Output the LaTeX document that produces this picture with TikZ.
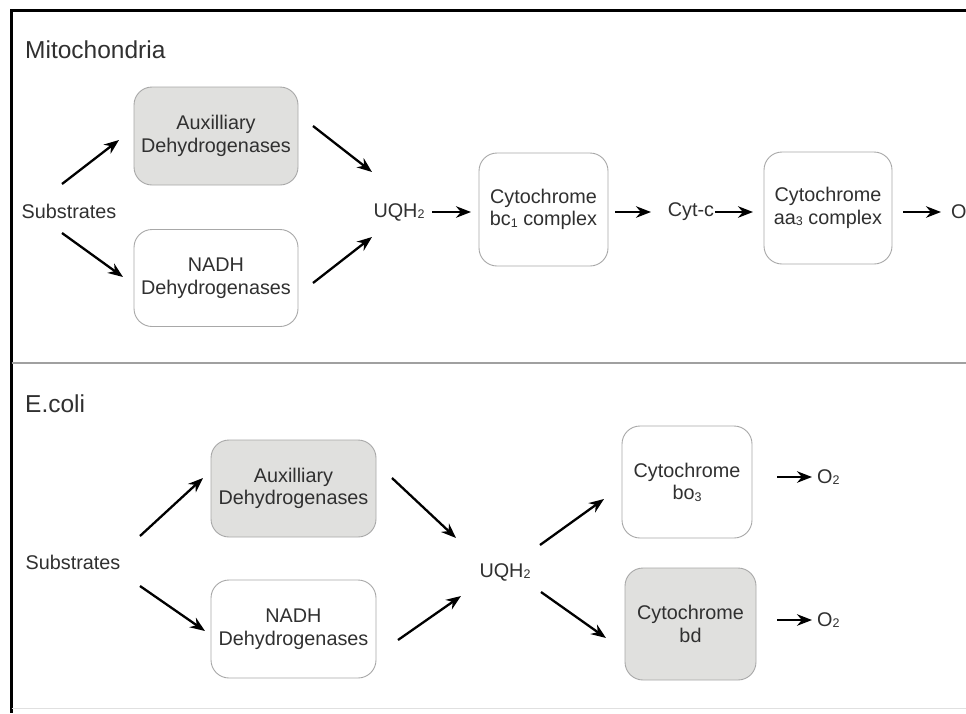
\documentclass[tikz,border=0pt]{standalone}
\usepackage{fontspec}
\setmainfont{Liberation Sans}
\usetikzlibrary{arrows.meta}
\definecolor{txt}{HTML}{303030}
\definecolor{bord}{HTML}{A8A8A8}
\definecolor{shade}{HTML}{E0E0DE}
\definecolor{divl}{HTML}{A0A0A0}
\newcommand{\lsub}[1]{\raisebox{-0.08em}{\fontsize{12.5}{12.5}\selectfont #1}}
\begin{document}
\begin{tikzpicture}[x=1pt,y=-1pt,
  lbl/.style={text=txt, font=\fontsize{19.8}{22.5}\selectfont, align=center, inner sep=0pt},
  title/.style={text=txt, font=\fontsize{24.5}{28}\selectfont, anchor=base west, inner sep=0pt},
  box/.style={lbl, draw=bord, line width=0.9pt, rounded corners=18pt},
  graybox/.style={box, fill=shade},
  flow/.style={draw=black, line width=2.3pt, -{Stealth[length=15pt,width=11.5pt]}}
]
\useasboundingbox (0,0) rectangle (966,713);
\begin{scope}
\clip (0,0) rectangle (966,713);
\fill[white] (0,0) rectangle (966,713);
% frame
\draw[line width=3pt] (11.5,10) -- (11.5,713);
\draw[line width=2.5pt] (10,10.5) -- (966,10.5);
\draw[divl, line width=1.5pt] (11.5,363) -- (966,363);
\draw[black!12, line width=1pt] (11.5,708) -- (966,708);

% ---------- Mitochondria ----------
\node[title] (tmito) at (25,58) {Mitochondria};
\node[lbl] (subsT) at (69,211) {Substrates};
\node[graybox, minimum width=164pt, minimum height=98pt] (auxT) at (216,136) {Auxilliary\\Dehydrogenases};
\node[box, minimum width=164pt, minimum height=97pt] (nadhT) at (216,278) {NADH\\Dehydrogenases};
\node[lbl] (uqT) at (399,212) {UQH\lsub{2}};
\node[box, minimum width=129pt, minimum height=113pt] (bc1) at (543.5,209.5) {Cytochrome\\bc\lsub{1} complex};
\node[lbl] (cytc) at (691,212) {Cyt-c};
\node[box, minimum width=128pt, minimum height=112pt] (aa3) at (828,208) {Cytochrome\\aa\lsub{3} complex};
\node[lbl, anchor=west] (oT) at (951,212) {O\lsub{2}};

\coordinate (a1s) at (62,184);  \coordinate (a1e) at (119,140);
\coordinate (a2s) at (62,233);  \coordinate (a2e) at (123,277);
\coordinate (a3s) at (313,126); \coordinate (a3e) at (372,172);
\coordinate (a4s) at (313,283); \coordinate (a4e) at (372,237);
\coordinate (a5s) at (432,212); \coordinate (a5e) at (471,212);
\coordinate (a6s) at (615,212); \coordinate (a6e) at (651,212);
\coordinate (a7s) at (715,212); \coordinate (a7e) at (753,212);
\coordinate (a8s) at (903,212); \coordinate (a8e) at (941,212);
\draw[flow] (a1s) -- (a1e);
\draw[flow] (a2s) -- (a2e);
\draw[flow] (a3s) -- (a3e);
\draw[flow] (a4s) -- (a4e);
\draw[flow] (a5s) -- (a5e);
\draw[flow] (a6s) -- (a6e);
\draw[flow] (a7s) -- (a7e);
\draw[flow] (a8s) -- (a8e);

% ---------- E.coli ----------
\node[title] (tecoli) at (25,412) {E.coli};
\node[lbl] (subsB) at (73,562) {Substrates};
\node[graybox, minimum width=165pt, minimum height=97pt] (auxB) at (293.5,488.5) {Auxilliary\\Dehydrogenases};
\node[box, minimum width=165pt, minimum height=98pt] (nadhB) at (293.5,629) {NADH\\Dehydrogenases};
\node[lbl] (uqB) at (505,572) {UQH\lsub{2}};
\node[box, minimum width=130pt, minimum height=112pt] (bo3) at (687,482) {Cytochrome\\bo\lsub{3}};
\node[graybox, minimum width=131pt, minimum height=112pt] (bd) at (690.5,624) {Cytochrome\\bd};
\node[lbl, anchor=west] (o2a) at (817,477) {O\lsub{2}};
\node[lbl, anchor=west] (o2b) at (817,620) {O\lsub{2}};

\coordinate (b1s) at (140,536); \coordinate (b1e) at (203,478);
\coordinate (b2s) at (140,586); \coordinate (b2e) at (205,631);
\coordinate (b3s) at (392,478); \coordinate (b3e) at (456,538);
\coordinate (b4s) at (398,640); \coordinate (b4e) at (461,596);
\coordinate (b5s) at (540,545); \coordinate (b5e) at (604,499);
\coordinate (b6s) at (541,592); \coordinate (b6e) at (606,638);
\coordinate (b7s) at (777,477); \coordinate (b7e) at (812,477);
\coordinate (b8s) at (777,620); \coordinate (b8e) at (812,620);
\draw[flow] (b1s) -- (b1e);
\draw[flow] (b2s) -- (b2e);
\draw[flow] (b3s) -- (b3e);
\draw[flow] (b4s) -- (b4e);
\draw[flow] (b5s) -- (b5e);
\draw[flow] (b6s) -- (b6e);
\draw[flow] (b7s) -- (b7e);
\draw[flow] (b8s) -- (b8e);
\end{scope}
\end{tikzpicture}
\end{document}
